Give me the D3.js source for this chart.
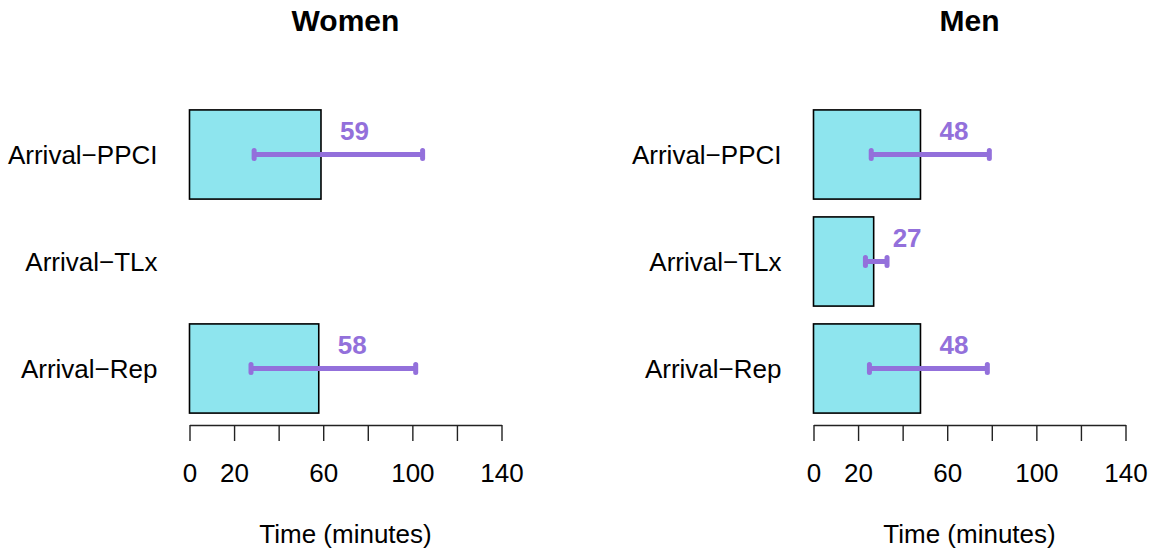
<!DOCTYPE html>
<html>
<head>
<meta charset="utf-8">
<script src="https://cdn.jsdelivr.net/npm/d3@7"></script>
<style>
  html, body { margin: 0; padding: 0; background: #fff; }
  svg { display: block; font-family: "Liberation Sans", Arial, Helvetica, sans-serif; }
</style>
</head>
<body>
<svg id="chart" width="1154" height="552"></svg>
<script>
// ---- data ----
const categories = ["Arrival\u2212PPCI", "Arrival\u2212TLx", "Arrival\u2212Rep"];
const panelTitles = ["Women", "Men"];
const womenMedian = [59, null, 58];
const womenLow    = [29.0, null, 27.6];
const womenHigh   = [104.6, null, 101.5];
const menMedian   = [48, 27, 48];
const menLow      = [25.9, 23.3, 25.1];
const menHigh     = [78.9, 33.0, 78.0];
const tickValues  = [0, 20, 40, 60, 80, 100, 120, 140];
const tickLabels  = ["0", "20", "", "60", "", "100", "", "140"];
const xDomain = [0, 140];
const xTitle = "Time (minutes)";

// ---- drawing ----
const svg = d3.select("#chart");
const barFill = "#8EE5EE";
const errColor = "#9370DB";
const baseFont = 26;

const panels = [
  { title: panelTitles[0], med: womenMedian, lo: womenLow, hi: womenHigh, x0: 189.5, x1: 501.5 },
  { title: panelTitles[1], med: menMedian,   lo: menLow,   hi: menHigh,   x0: 813.5, x1: 1125.5 }
];

const y = d3.scaleBand()
  .domain(categories)
  .range([101, 422])
  .paddingInner(0.2 / 1.2)
  .paddingOuter(0.1 / 1.2);

panels.forEach(p => {
  const x = d3.scaleLinear().domain(xDomain).range([p.x0, p.x1]);
  const g = svg.append("g");
  const rows = categories.map((c, i) => ({ cat: c, med: p.med[i], lo: p.lo[i], hi: p.hi[i] }));
  const valid = rows.filter(d => d.med != null);

  // title
  g.append("text")
    .attr("x", (p.x0 + p.x1) / 2).attr("y", 30.5)
    .attr("text-anchor", "middle")
    .attr("font-size", 30).attr("font-weight", "bold")
    .attr("fill", "#000")
    .text(p.title);

  // category labels
  g.selectAll("text.cat").data(rows).enter().append("text")
    .attr("class", "cat")
    .attr("x", x(0) - 32)
    .attr("y", d => y(d.cat) + y.bandwidth() / 2)
    .attr("dy", "0.355em")
    .attr("text-anchor", "end")
    .attr("font-size", baseFont)
    .attr("fill", "#000")
    .text(d => d.cat);

  // bars
  g.selectAll("rect.bar").data(valid).enter().append("rect")
    .attr("class", "bar")
    .attr("x", x(0))
    .attr("y", d => y(d.cat))
    .attr("width", d => x(d.med) - x(0))
    .attr("height", y.bandwidth())
    .attr("fill", barFill)
    .attr("stroke", "#000")
    .attr("stroke-width", 1.6);

  // error bars
  const eb = g.selectAll("g.eb").data(valid).enter().append("g").attr("class", "eb");
  eb.append("line")
    .attr("x1", d => x(d.lo)).attr("x2", d => x(d.hi))
    .attr("y1", d => y(d.cat) + y.bandwidth() / 2)
    .attr("y2", d => y(d.cat) + y.bandwidth() / 2)
    .attr("stroke", errColor).attr("stroke-width", 5);
  ["lo", "hi"].forEach(k => {
    eb.append("line")
      .attr("x1", d => x(d[k])).attr("x2", d => x(d[k]))
      .attr("y1", d => y(d.cat) + y.bandwidth() / 2 - 4)
      .attr("y2", d => y(d.cat) + y.bandwidth() / 2 + 4)
      .attr("stroke", errColor).attr("stroke-width", 5)
      .attr("stroke-linecap", "round");
  });

  // value labels
  g.selectAll("text.val").data(valid).enter().append("text")
    .attr("class", "val")
    .attr("x", d => x(d.med + 15))
    .attr("y", d => y(d.cat) + y.bandwidth() / 2 - 15)
    .attr("text-anchor", "middle")
    .attr("font-size", 26).attr("font-weight", "bold")
    .attr("fill", errColor)
    .text(d => d.med);

  // axis
  const axis = d3.axisBottom(x)
    .tickValues(tickValues)
    .tickFormat((d, i) => tickLabels[i])
    .tickSize(16)
    .tickSizeOuter(0)
    .tickPadding(23);
  const ag = g.append("g").attr("transform", "translate(0,425)").call(axis);
  ag.select(".domain").attr("stroke", "#222").attr("stroke-width", 1.4);
  ag.selectAll(".tick line").attr("stroke", "#222").attr("stroke-width", 1.4);
  ag.selectAll(".tick text")
    .attr("font-size", baseFont)
    .attr("font-family", "Liberation Sans, Arial, sans-serif")
    .attr("fill", "#000");

  // axis title
  g.append("text")
    .attr("x", (p.x0 + p.x1) / 2).attr("y", 543)
    .attr("text-anchor", "middle")
    .attr("font-size", baseFont)
    .attr("fill", "#000")
    .text(xTitle);
});
</script>
</body>
</html>
